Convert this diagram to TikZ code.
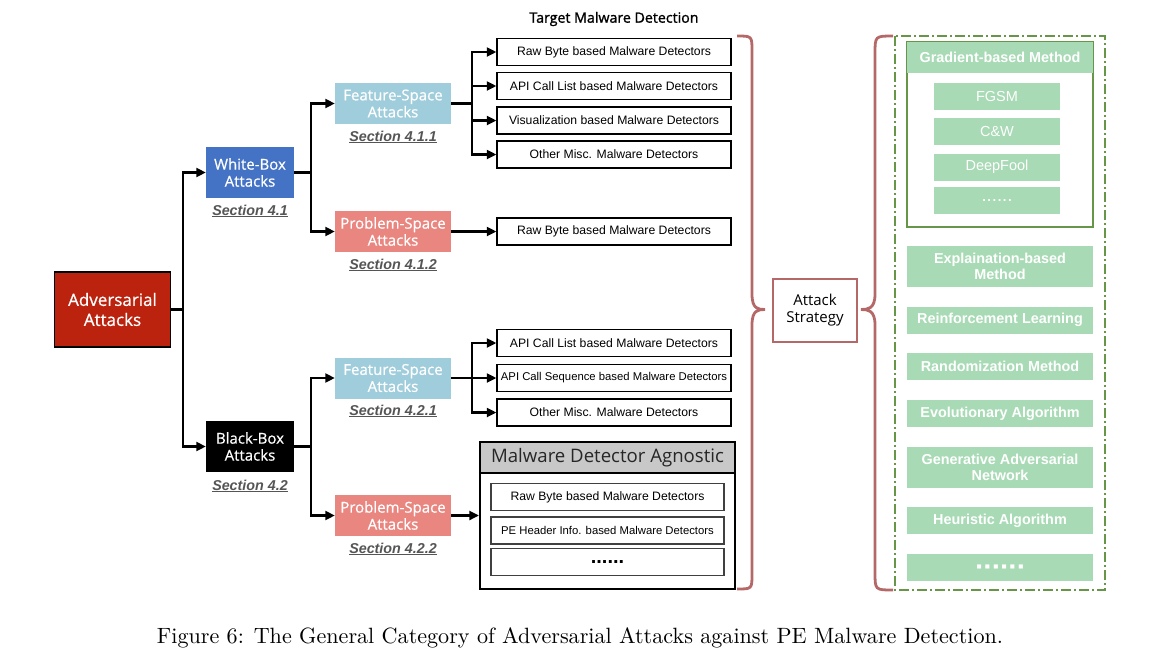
\documentclass[tikz,border=0pt]{standalone}
\usepackage{graphicx}
\usepackage{fontspec}
\setsansfont{Liberation Sans}
\newfontfamily\osans{Open Sans}
\newfontfamily\osanssb{Open Sans}[FakeBold=0.6]
\newfontfamily\osanstt{Open Sans}[FakeBold=1.3]
\usetikzlibrary{arrows.meta}
\definecolor{advred}{RGB}{187,35,14}
\definecolor{wbblue}{RGB}{68,114,196}
\definecolor{fsblue}{RGB}{160,205,220}
\definecolor{psred}{RGB}{234,134,128}
\definecolor{lgreen}{RGB}{168,218,181}
\definecolor{dgreen}{RGB}{104,150,72}
\definecolor{bracecol}{RGB}{181,104,104}
\definecolor{hdrgray}{RGB}{200,200,200}
\definecolor{secgray}{RGB}{85,85,85}
\begin{document}
\begin{tikzpicture}[x=1pt,y=-1pt,
  catbox/.style={rectangle,inner sep=0pt,align=center,text=white,font=\osanssb\fontsize{15}{17}\selectfont},
  seclab/.style={font=\sffamily\bfseries\itshape\fontsize{14.3}{16}\selectfont,text=secgray},
  detbox/.style={draw=black,line width=1.3pt,rectangle,inner sep=0pt,minimum width=234pt,minimum height=27pt,font=\sffamily\fontsize{12.2}{14}\selectfont},
  inbox/.style={draw=black!75,line width=1.2pt,rectangle,inner sep=0pt,minimum width=233pt,minimum height=27pt,font=\sffamily\fontsize{12.2}{14}\selectfont},
  gbox/.style={rectangle,fill=lgreen,inner sep=0pt,minimum width=186pt,align=center,text=white,font=\sffamily\bfseries\fontsize{14.4}{16}\selectfont},
  gin/.style={rectangle,fill=lgreen,inner sep=0pt,minimum width=126pt,minimum height=27pt,text=white,font=\sffamily\fontsize{14.5}{16}\selectfont},
  conn/.style={line width=2.1pt,-{Triangle[length=9.5pt,width=9pt]}},
  plain/.style={line width=2.1pt},
  bracestyle/.style={draw=bracecol,line width=2.8pt}
]
\useasboundingbox (0,0) rectangle (1158,670);

% level 0
\node[catbox,fill=advred,draw=black,line width=1.8pt,minimum width=116pt,minimum height=75pt,font=\osanssb\fontsize{17}{20}\selectfont] (adv) at (112.5,309.5) {Adversarial\\Attacks};
% level 1
\node[catbox,fill=wbblue,minimum width=88pt,minimum height=51pt] (wb) at (250,172.5) {White-Box\\Attacks};
\node[catbox,fill=black,minimum width=88pt,minimum height=51pt] (bb) at (250,446.5) {Black-Box\\Attacks};
\node[seclab] (s41) at (250,211) {\underline{Section 4.1}};
\node[seclab] (s42) at (250,486) {\underline{Section 4.2}};
% level 2
\node[catbox,fill=fsblue,minimum width=116pt,minimum height=41pt] (fs1) at (393,103.5) {Feature-Space\\Attacks};
\node[catbox,fill=psred,minimum width=116pt,minimum height=41pt] (ps1) at (393,231.5) {Problem-Space\\Attacks};
\node[catbox,fill=fsblue,minimum width=116pt,minimum height=41pt] (fs2) at (393,378) {Feature-Space\\Attacks};
\node[catbox,fill=psred,minimum width=116pt,minimum height=41pt] (ps2) at (393,515.5) {Problem-Space\\Attacks};
\node[seclab] (s411) at (393,137) {\underline{Section 4.1.1}};
\node[seclab] (s412) at (393,265) {\underline{Section 4.1.2}};
\node[seclab] (s421) at (393,411) {\underline{Section 4.2.1}};
\node[seclab] (s422) at (393,549) {\underline{Section 4.2.2}};

% title
\node[font=\osanstt\fontsize{14.2}{16}\selectfont] (title) at (614,19) {Target Malware Detection};

% detectors
\node[detbox] (d1) at (614,52) {Raw Byte based Malware Detectors};
\node[detbox] (d2) at (614,86) {API Call List based Malware Detectors};
\node[detbox] (d3) at (614,120.5) {Visualization based Malware Detectors};
\node[detbox] (d4) at (614,154.5) {Other Misc. Malware Detectors};
\node[detbox] (d5) at (614,231.5) {Raw Byte based Malware Detectors};
\node[detbox] (e1) at (614,343) {API Call List based Malware Detectors};
\node[detbox,font=\sffamily\fontsize{11.3}{13}\selectfont] (e2) at (614,378) {API Call Sequence based Malware Detectors};
\node[detbox] (e3) at (614,412.5) {Other Misc. Malware Detectors};

% agnostic
\fill[hdrgray] (480,442) rectangle (735,473);
\node[draw=black,line width=2.2pt,rectangle,inner sep=0pt,minimum width=255pt,minimum height=147pt] (agn) at (607.5,515.5) {};
\draw[line width=2.2pt] (agn.west |- 0,473) -- (agn.east |- 0,473);
\node[font=\osans\fontsize{18.6}{20}\selectfont,text=black!85] (agnt) at (607.5,457.5) {Malware Detector Agnostic};
\node[inbox] (a1) at (607.5,497) {Raw Byte based Malware Detectors};
\node[inbox,font=\sffamily\fontsize{11.3}{13}\selectfont] (a2) at (607.5,530.5) {PE Header Info. based Malware Detectors};
\node[inbox,font=\sffamily\bfseries\fontsize{20}{20}\selectfont] (a3) at (607.5,562) {......};

% connectors
\coordinate (j0) at (183,309.5);
\draw[plain] (adv.east) -- (j0);
\draw[conn] (j0) |- (wb.west);
\draw[conn] (j0) |- (bb.west);
\coordinate (j1) at (311,172.5);
\draw[plain] (wb.east) -- (j1);
\draw[conn] (j1) |- (fs1.west);
\draw[conn] (j1) |- (ps1.west);
\coordinate (j2) at (311,446.5);
\draw[plain] (bb.east) -- (j2);
\draw[conn] (j2) |- (fs2.west);
\draw[conn] (j2) |- (ps2.west);
\coordinate (j3) at (472,103.5);
\draw[plain] (fs1.east) -- (j3);
\draw[conn] (j3) |- (d1.west);
\draw[conn] (j3) |- (d2.west);
\draw[conn] (j3) |- (d3.west);
\draw[conn] (j3) |- (d4.west);
\draw[conn] (ps1.east) -- (d5.west);
\coordinate (j4) at (472,378);
\draw[plain] (fs2.east) -- (j4);
\draw[conn] (j4) |- (e1.west);
\draw[conn] (j4) -- (e2.west);
\draw[conn] (j4) |- (e3.west);
\draw[conn] (ps2.east) -- (agn.west);

% brace 1
\draw[bracestyle] (737,36) .. controls (752,36) .. (752,51) -- (752,294)
  .. controls (752,309) and (758,309.5) .. (765,309.5)
  .. controls (758,309.5) and (752,310) .. (752,325) -- (752,574)
  .. controls (752,589) .. (737,589);
% attack strategy
\node[draw=bracecol,line width=2pt,rectangle,inner sep=0pt,minimum width=84pt,minimum height=63pt,align=center,font=\osans\fontsize{15}{17}\selectfont] (as) at (815,310.5) {Attack\\Strategy};
% brace 2
\draw[bracestyle] (893,36) .. controls (875,36) .. (875,54) -- (875,294)
  .. controls (875,309) and (868,309.5) .. (861,309.5)
  .. controls (868,309.5) and (875,310) .. (875,325) -- (875,572)
  .. controls (875,590) .. (893,590);

% strategies container
\draw[dgreen,line width=1.5pt,dash pattern=on 10pt off 3pt on 2pt off 3pt] (895,36) rectangle (1105,590);
\node[draw=dgreen,line width=1.2pt,rectangle,inner sep=0pt,minimum width=186pt,minimum height=185pt] (grad) at (1000,134.5) {};
\node[gbox,minimum height=31pt] (gradh) at (1000,57.5) {Gradient-based Method};
\node[gin] (g1) at (997,96.5) {FGSM};
\node[gin] (g2) at (997,131.5) {C\&W};
\node[gin] (g3) at (997,167) {DeepFool};
\node[gin,font=\sffamily\fontsize{18.5}{18}\selectfont] (g4) at (997,200.5) {......};

\node[gbox,minimum height=41pt,font=\sffamily\bfseries\fontsize{14.4}{16.5}\selectfont] (m1) at (1000,266.5) {Explaination-based\\Method};
\node[gbox,minimum height=27pt] (m2) at (1000,320) {Reinforcement Learning};
\node[gbox,minimum height=27pt] (m3) at (1000,366.5) {Randomization Method};
\node[gbox,minimum height=27pt] (m4) at (1000,413.5) {Evolutionary Algorithm};
\node[gbox,minimum height=41pt,font=\sffamily\bfseries\fontsize{14.4}{16.5}\selectfont] (m5) at (1000,467.5) {Generative Adversarial\\Network};
\node[gbox,minimum height=27pt] (m6) at (1000,520.5) {Heuristic Algorithm};
\node[gbox,minimum height=27pt,font=\sffamily\fontsize{8.5}{9}\selectfont] (m7) at (1000,567.5) {■\hspace{3.2pt}■\hspace{3.2pt}■\hspace{3.2pt}■\hspace{3.2pt}■\hspace{3.2pt}■};

% caption
\node[inner sep=0pt] (cap) at (580,638) {\resizebox{846pt}{!}{\fontsize{10}{12}\selectfont Figure 6: The General Category of Adversarial Attacks against PE Malware Detection.}};
\end{tikzpicture}
\end{document}
